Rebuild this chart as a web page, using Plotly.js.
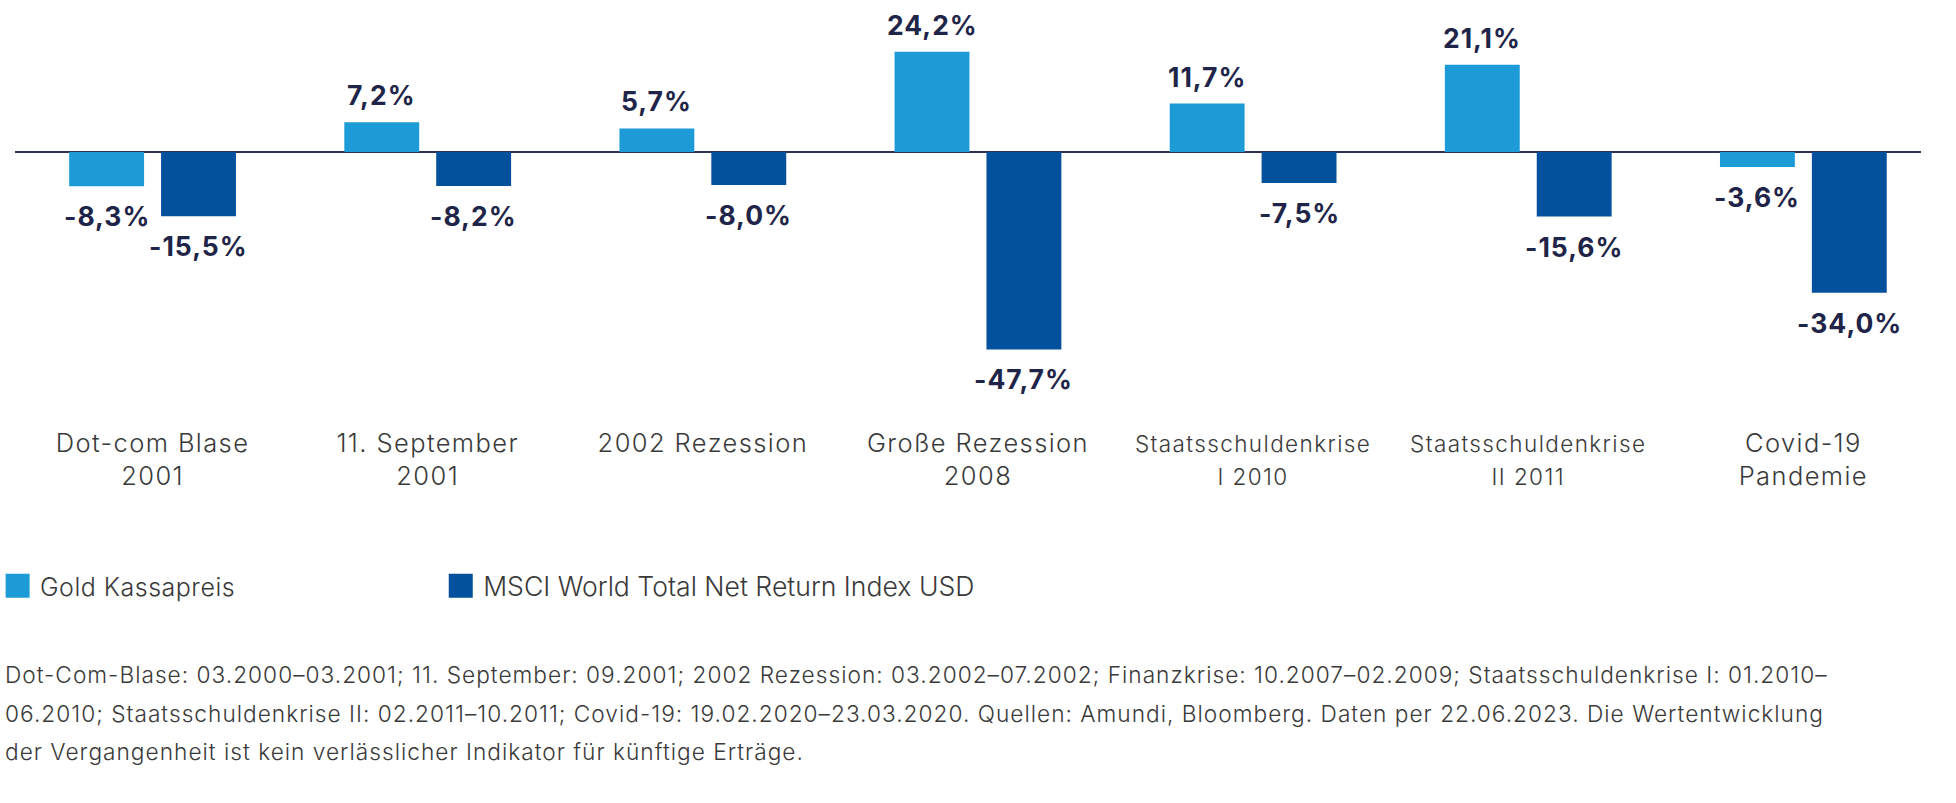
<!DOCTYPE html>
<html>
<head>
<meta charset="utf-8">
<script src="https://cdn.plot.ly/plotly-3.0.1.min.js"></script>
<style>
  html, body { margin: 0; padding: 0; background: #ffffff; }
  #chart { width: 1956px; height: 803px; }
  .xtick text { letter-spacing: 1.4px; }
  text.annotation-text { letter-spacing: 1px; }
  .legendtext { letter-spacing: 0.5px; }
  .legendpoints path { transform: translate(17.6px, 0px) scale(2); }
</style>
</head>
<body>
<div id="chart"></div>
<script>
// ---- data ----
const categories = [
  "Dot-com Blase<br>2001",
  "11. September<br>2001",
  "2002 Rezession",
  "Große Rezession<br>2008",
  "Staatsschuldenkrise<br>I 2010",
  "Staatsschuldenkrise<br>II 2011",
  "Covid-19<br>Pandemie"
];
const goldValues = [-8.3, 7.2, 5.7, 24.2, 11.7, 21.1, -3.6];
const msciValues = [-15.5, -8.2, -8.0, -47.7, -7.5, -15.6, -34.0];
const seriesNames = ["Gold Kassapreis", "MSCI World Total Net Return Index USD"];
const footnoteLines = [
  "Dot-Com-Blase: 03.2000–03.2001; 11. September: 09.2001; 2002 Rezession: 03.2002–07.2002; Finanzkrise: 10.2007–02.2009; Staatsschuldenkrise I: 01.2010–",
  "06.2010; Staatsschuldenkrise II: 02.2011–10.2011; Covid-19: 19.02.2020–23.03.2020. Quellen: Amundi, Bloomberg. Daten per 22.06.2023. Die Wertentwicklung",
  "der Vergangenheit ist kein verlässlicher Indikator für künftige Erträge."
];

// ---- styles / geometry ----
const W = 1956, H = 803;
const FONT = "Inter, 'Noto Sans', sans-serif";
const colors = ["#1c9bd7", "#03519c"];
const labelColor = "#1f2548";
const textColor = "#3a3a3a";
const plotTop = 0, plotBottom = 425, plotLeft = 9, plotRight = 1921;
const zeroY = 152, pxPerUnit = 4.14;
const catCenter0 = 147, catStep = 276;
const margin = { l: plotLeft, r: W - plotRight, t: plotTop, b: H - plotBottom, pad: 0 };
const plotW = plotRight - plotLeft, plotH = plotBottom - plotTop;
const pxX = px => (px - plotLeft) / plotW;
const pxY = py => (plotBottom - py) / plotH;
const bargap = 0.332;
const barOffset = (1 - bargap) / 4;
const legendX = [-6.5, 438.5];
const legendFontSize = [25, 26.6];
const legendYpx = 586;

const fmt = v => v.toFixed(1).replace('.', ',') + '%';
// long category names are set a little smaller, as in the original
const tickText = categories.map(c =>
  c.split('<br>').some(l => l.length > 16)
    ? '<span style="font-size:22.5px">' + c.split('<br>').join('</span><br><span style="font-size:22.5px">') + '</span>'
    : c);

const traces = [goldValues, msciValues].map((vals, i) => ({
  type: 'bar',
  name: seriesNames[i],
  legend: i === 0 ? 'legend' : 'legend2',
  x: categories,
  y: vals,
  marker: { color: colors[i], line: { width: 0 } },
  hoverinfo: 'skip'
}));

const annotations = [];
[goldValues, msciValues].forEach((vals, s) => {
  vals.forEach((v, i) => {
    annotations.push({
      x: i + (s === 0 ? -barOffset : barOffset),
      y: v,
      xref: 'x', yref: 'y',
      text: '<b>' + fmt(v) + '</b>',
      showarrow: false,
      xanchor: 'center', yanchor: 'middle',
      yshift: v >= 0 ? 27 : -30,
      font: { family: FONT, size: 26.5, color: labelColor, weight: 700 }
    });
  });
});
const footY = [674, 713, 751];
footnoteLines.forEach((t, k) => {
  annotations.push({
    x: pxX(-3), y: pxY(footY[k]),
    xref: 'paper', yref: 'paper',
    text: t, showarrow: false,
    xanchor: 'left', yanchor: 'middle', align: 'left',
    font: { family: FONT, size: 22.7, color: textColor, weight: 300 }
  });
});

const makeLegend = i => ({
  orientation: 'h',
  x: pxX(legendX[i]), xanchor: 'left',
  y: pxY(legendYpx), yanchor: 'middle',
  font: { family: FONT, size: legendFontSize[i], color: textColor, weight: 300 },
  bgcolor: 'rgba(0,0,0,0)'
});

const layout = {
  width: W, height: H,
  margin: margin,
  paper_bgcolor: '#ffffff',
  plot_bgcolor: '#ffffff',
  barmode: 'group',
  bargap: bargap,
  bargroupgap: 0.185,
  showlegend: true,
  legend: makeLegend(0),
  legend2: makeLegend(1),
  xaxis: {
    type: 'category',
    range: [-(catCenter0 - plotLeft) / catStep, (plotRight - catCenter0) / catStep],
    tickmode: 'array', tickvals: categories, ticktext: tickText,
    showgrid: false, zeroline: false, showline: false,
    ticks: '', ticklabelstandoff: 0,
    tickfont: { family: FONT, size: 25.5, color: textColor, weight: 300 },
    fixedrange: true
  },
  yaxis: {
    range: [-(plotBottom - zeroY) / pxPerUnit, (zeroY - plotTop) / pxPerUnit],
    showgrid: false, showticklabels: false, ticks: '',
    zeroline: true, zerolinecolor: '#2b3350', zerolinewidth: 2,
    fixedrange: true
  },
  annotations: annotations
};

Plotly.newPlot('chart', traces, layout, { displayModeBar: false, staticPlot: true });
</script>
</body>
</html>
